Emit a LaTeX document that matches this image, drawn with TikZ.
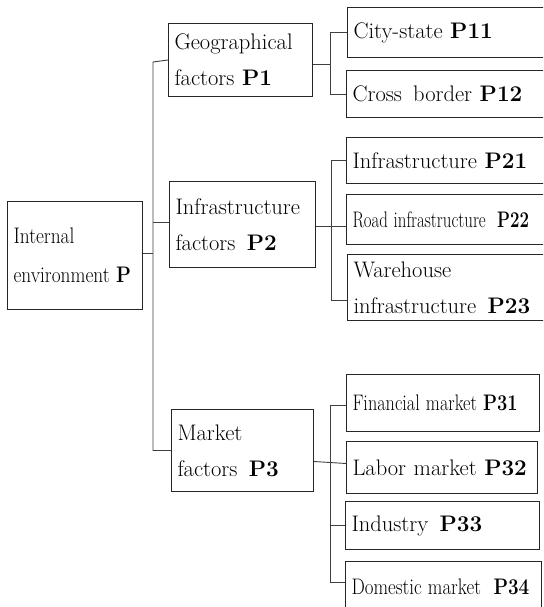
\documentclass[tikz,border=0pt]{standalone}
\usepackage{graphicx}
\usepackage{tikz}

\tikzset{
  box/.style={draw=black!85, line width=1pt, anchor=north west, inner xsep=6pt, inner ysep=0pt,
    align=left, font=\fontsize{22.5}{36}\selectfont},
  link/.style={draw=black!75, line width=0.9pt}
}

\begin{document}
\begin{tikzpicture}[x=1pt,y=-1pt]
\useasboundingbox (0,0) rectangle (543,607);
\clip (0,0) rectangle (543,607);

% root and the three factor groups
\node[box, text width=123pt, minimum height=108pt] (P) at (7,201)
  {\scalebox{0.86}[1]{Internal}\\[3pt]\scalebox{0.86}[1]{environment \textbf{P}}};
\node[box, text width=132pt, minimum height=73pt] (P1) at (168,23) {Geographical\\factors \textbf{P1}};
\node[box, text width=134pt, minimum height=86pt] (P2) at (169,181) {Infrastructure\\factors \,\textbf{P2}};
\node[box, text width=130pt, minimum height=82pt] (P3) at (171,409) {Market\\factors \,\textbf{P3}};

% sub factors
\node[box, text width=190pt, minimum height=50pt] (P11) at (347,7) {City-state \textbf{P11}};
\node[box, text width=190pt, minimum height=47pt] (P12) at (346,70) {Cross \,border \textbf{P12}};
\node[box, text width=190pt, minimum height=46pt] (P21) at (346,137) {Infrastructure \textbf{P21}};
\node[box, text width=190pt, minimum height=50pt] (P22) at (346,194)
  {\scalebox{0.75}[1]{Road infrastructure \ \textbf{P22}}};
\node[box, text width=190pt, minimum height=66pt] (P23) at (347,254) {Warehouse\\infrastructure \,\textbf{P23}};
\node[box, text width=181pt, minimum height=57pt] (P31) at (346,374)
  {\scalebox{0.81}[1]{Financial market \textbf{P31}}};
\node[box, text width=179pt, minimum height=52pt] (P32) at (346,441) {\mbox{Labor market \textbf{P32}}};
\node[box, text width=182pt, minimum height=48pt] (P33) at (345,501) {Industry \,\textbf{P33}};
\node[box, text width=184pt, minimum height=51pt] (P34) at (345,561)
  {\scalebox{0.84}[1]{Domestic market \ \textbf{P34}}};

% spines
\coordinate (t) at (153,62);
\coordinate (s1) at (330,0);
\coordinate (s2) at (331,0);
\coordinate (s3) at (330,0);
\coordinate (e1) at ([yshift=-4pt]P1.east);
\coordinate (e2) at ([yshift=-2pt]P2.east);
\coordinate (c23) at ([yshift=-13pt]P23.west);
\coordinate (e3) at ([yshift=-11pt]P3.east);
\coordinate (c32) at ([yshift=4pt]P32.west);
\coordinate (c31) at ([yshift=-2.5pt]P31.west);
\coordinate (c34) at ([yshift=4.5pt]P34.west);

\draw[link] ([yshift=2pt]P.east) -- ([yshift=2pt]P.east -| t);
\draw[link] (P1.west) -- (t) -- (P3.west -| t) -- (P3.west);
\draw[link] ([yshift=2pt]P2.west -| t) -- ([yshift=2pt]P2.west);

\draw[link] (e1) -- (e1 -| s1);
\draw[link] (P11.west) -- (P11.west -| s1) -- (P12.west -| s1) -- (P12.west);

\draw[link] (e2) -- (e2 -| P22.west);
\draw[link] (P21.west) -- (P21.west -| s2) -- (c23 -| s2) -- (c23);

\draw[link] (e3) -- ([yshift=-1pt]e3 -| s3) -- (c32);
\draw[link] (c31) -- (c31 -| s3) -- (c34 -| s3) -- (c34);
\draw[link] (P33.west -| s3) -- (P33.west);

\end{tikzpicture}
\end{document}
